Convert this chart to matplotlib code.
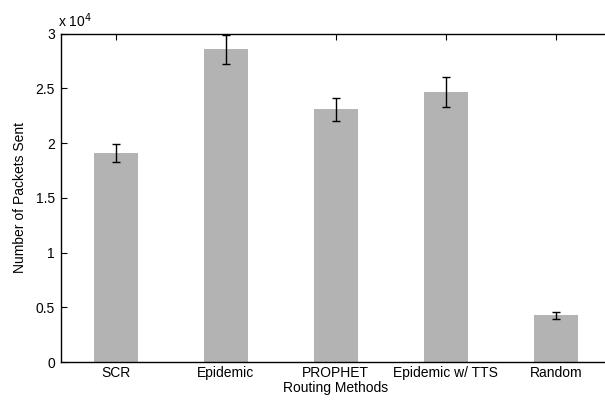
import matplotlib
matplotlib.use('Agg')
import matplotlib.pyplot as plt
from matplotlib.ticker import FuncFormatter

plt.rcParams['font.family'] = ['Liberation Sans', 'DejaVu Sans']

methods = ['SCR', 'Epidemic', 'PROPHET', 'Epidemic w/ TTS', 'Random']
packets = [19100, 28560, 23110, 24660, 4290]
errors = [850, 1350, 1050, 1400, 320]

fig = plt.figure(figsize=(6.05, 4.05), dpi=100)
ax = fig.add_axes([0.1, 0.106, 0.91, 0.811])

x = list(range(1, len(methods) + 1))
ax.bar(x, packets, width=0.4, color='#b3b3b3', zorder=2)
ax.errorbar(x, packets, yerr=errors, fmt='none', ecolor='black',
            elinewidth=1, capsize=3.2, capthick=1, zorder=3)

ax.set_xlim(0.5, 5.5)
ax.set_ylim(0, 30000)
ax.set_xticks(x)
ax.set_xticklabels(methods)
ax.set_yticks([0, 5000, 10000, 15000, 20000, 25000, 30000])
ax.yaxis.set_major_formatter(FuncFormatter(lambda v, p: '%g' % (v / 1e4)))
ax.tick_params(direction='in', top=True, right=True, labelsize=10, length=4, pad=4)
ax.tick_params(axis='x', pad=3)
for s in ax.spines.values():
    s.set_linewidth(1)

ax.set_xlabel('Routing Methods', fontsize=10, labelpad=0.5)
ax.set_ylabel('Number of Packets Sent', fontsize=10, labelpad=6)
ax.text(-0.005, 1.012, r'x 10$^4$', transform=ax.transAxes, fontsize=10,
        ha='left', va='bottom')

fig.savefig('out.png', dpi=100)
